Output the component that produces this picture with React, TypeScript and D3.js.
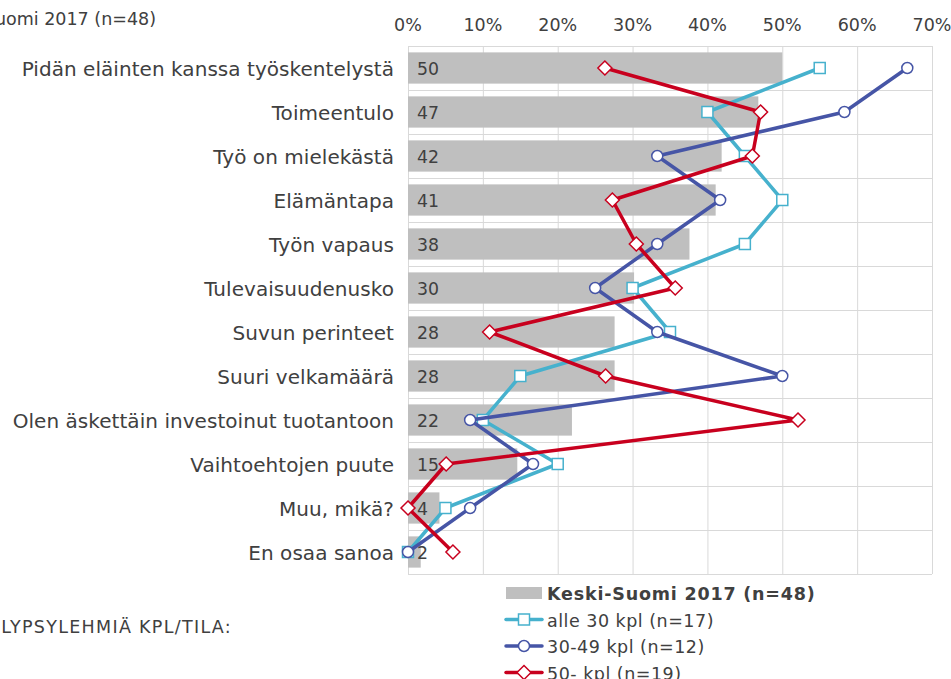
import { useEffect, useRef } from "react";
import * as d3 from "d3";

const categories = [
  "Pidän eläinten kanssa työskentelystä",
  "Toimeentulo",
  "Työ on mielekästä",
  "Elämäntapa",
  "Työn vapaus",
  "Tulevaisuudenusko",
  "Suvun perinteet",
  "Suuri velkamäärä",
  "Olen äskettäin investoinut tuotantoon",
  "Vaihtoehtojen puute",
  "Muu, mikä?",
  "En osaa sanoa",
];

// Keski-Suomi 2017 (n=48), bars
const totalValues = [50, 46.8, 41.9, 41.1, 37.6, 30.2, 27.6, 27.6, 21.9, 14.6, 4.2, 1.7];
// alle 30 kpl (n=17)
const smallFarms = [55, 40, 45, 50, 45, 30, 35, 15, 10, 20, 5, 0];
// 30-49 kpl (n=12)
const midFarms = [66.7, 58.3, 33.3, 41.7, 33.3, 25, 33.3, 50, 8.3, 16.7, 8.3, 0];
// 50- kpl (n=19)
const bigFarms = [26.3, 47.1, 46.0, 27.3, 30.5, 35.7, 10.9, 26.4, 52.1, 5.1, 0, 6.0];

const xTicks = [0, 10, 20, 30, 40, 50, 60, 70];

const seriesNames = [
  "Keski-Suomi 2017 (n=48)",
  "alle 30 kpl (n=17)",
  "30-49 kpl (n=12)",
  "50- kpl (n=19)",
];

const width = 951;
const height = 679;
const font = "'DejaVu Sans', Verdana, sans-serif";
const textColor = "#404040";

const App = () => {
  const svgRef = useRef<SVGSVGElement | null>(null);

  useEffect(() => {
    if (!svgRef.current) return;
    const svg = d3.select(svgRef.current);
    svg.selectAll("*").remove();

    const margin = { left: 408, top: 46, right: 19, bottom: 105 };
    const x = d3
      .scaleLinear()
      .domain([0, 70])
      .range([margin.left, width - margin.right]);
    const rows = d3
      .scaleBand()
      .domain(categories)
      .range([margin.top, height - margin.bottom]);
    const bars = rows.copy().paddingInner(0.29).paddingOuter(0.145);
    const yMid = (c: string) => (rows(c) as number) + rows.bandwidth() / 2;

    // grid
    const grid = svg.append("g").attr("stroke", "#d9d9d9").attr("stroke-width", 1);
    grid
      .selectAll(".v")
      .data(xTicks)
      .enter()
      .append("line")
      .attr("x1", (d) => x(d) + 0.5)
      .attr("x2", (d) => x(d) + 0.5)
      .attr("y1", margin.top)
      .attr("y2", height - margin.bottom);
    grid
      .selectAll(".h")
      .data(d3.range(categories.length + 1))
      .enter()
      .append("line")
      .attr("x1", x(0))
      .attr("x2", x(70))
      .attr("y1", (i) => margin.top + i * rows.step() + 0.5)
      .attr("y2", (i) => margin.top + i * rows.step() + 0.5);

    // x tick labels
    svg
      .append("g")
      .selectAll("text")
      .data(xTicks)
      .enter()
      .append("text")
      .attr("x", (d) => x(d))
      .attr("y", 31)
      .attr("text-anchor", "middle")
      .attr("font-family", font)
      .attr("font-size", "17.5px")
      .attr("fill", textColor)
      .text((d) => `${d}%`);

    // category labels
    svg
      .append("g")
      .selectAll("text")
      .data(categories)
      .enter()
      .append("text")
      .attr("x", x(0) - 14)
      .attr("y", (d) => yMid(d) + 7.5)
      .attr("text-anchor", "end")
      .attr("font-family", font)
      .attr("font-size", "20px")
      .attr("letter-spacing", "0.05px")
      .attr("fill", textColor)
      .text((d) => d);

    // bars
    svg
      .append("g")
      .selectAll("rect")
      .data(totalValues)
      .enter()
      .append("rect")
      .attr("x", x(0))
      .attr("y", (_d, i) => bars(categories[i]) as number)
      .attr("width", (d) => x(d) - x(0))
      .attr("height", bars.bandwidth())
      .attr("fill", "#bfbfbf");

    svg
      .append("g")
      .selectAll("text")
      .data(totalValues)
      .enter()
      .append("text")
      .attr("x", x(0) + 9)
      .attr("y", (_d, i) => yMid(categories[i]) + 6.5)
      .attr("font-family", font)
      .attr("font-size", "17.3px")
      .attr("fill", textColor)
      .text((d) => d3.format(".0f")(d));

    const line = d3
      .line<number>()
      .x((d) => x(d))
      .y((_d, i) => yMid(categories[i]));

    const drawMarker = (
      g: d3.Selection<SVGGElement, unknown, null, undefined>,
      kind: string,
      color: string,
      cx: number,
      cy: number,
    ) => {
      if (kind === "square") {
        g.append("rect")
          .attr("x", cx - 5.5)
          .attr("y", cy - 5.5)
          .attr("width", 11)
          .attr("height", 11)
          .attr("fill", "#fff")
          .attr("stroke", color)
          .attr("stroke-width", 1.5);
      } else if (kind === "circle") {
        g.append("circle")
          .attr("cx", cx)
          .attr("cy", cy)
          .attr("r", 5.5)
          .attr("fill", "#fff")
          .attr("stroke", color)
          .attr("stroke-width", 1.5);
      } else {
        g.append("path")
          .attr("d", `M${cx},${cy - 7}L${cx + 7},${cy}L${cx},${cy + 7}L${cx - 7},${cy}Z`)
          .attr("fill", "#fff")
          .attr("stroke", color)
          .attr("stroke-width", 1.5);
      }
    };

    const series = [
      { values: smallFarms, color: "#46b1cd", marker: "square" },
      { values: midFarms, color: "#4655a6", marker: "circle" },
      { values: bigFarms, color: "#c8001e", marker: "diamond" },
    ];

    series.forEach((s) => {
      const g = svg.append("g");
      g.append("path")
        .attr("d", line(s.values))
        .attr("fill", "none")
        .attr("stroke", s.color)
        .attr("stroke-width", 3.5)
        .attr("stroke-linejoin", "round");
      s.values.forEach((v, i) =>
        drawMarker(g, s.marker, s.color, x(v), yMid(categories[i])),
      );
    });

    // title, cut off at the left edge as in the source
    svg
      .append("text")
      .attr("x", 156)
      .attr("y", 25)
      .attr("text-anchor", "end")
      .attr("font-family", font)
      .attr("font-size", "17.5px")
      .attr("fill", textColor)
      .text("Keski-Suomi 2017 (n=48)");

    svg
      .append("text")
      .attr("x", 232)
      .attr("y", 633)
      .attr("text-anchor", "end")
      .attr("font-family", font)
      .attr("font-size", "17.5px")
      .attr("letter-spacing", "1.3px")
      .attr("fill", textColor)
      .text("LYPSYLEHMIÄ KPL/TILA:");

    // legend
    const legend = svg.append("g");
    const lx = 506;
    const rowY = (i: number) => 593 + i * 26.5;
    legend
      .append("rect")
      .attr("x", lx)
      .attr("y", rowY(0) - 6)
      .attr("width", 36)
      .attr("height", 12)
      .attr("fill", "#bfbfbf");
    series.forEach((s, i) => {
      const cy = rowY(i + 1);
      const g = legend.append("g");
      g.append("line")
        .attr("x1", lx)
        .attr("x2", lx + 36)
        .attr("y1", cy)
        .attr("y2", cy)
        .attr("stroke", s.color)
        .attr("stroke-width", 3.5)
        .attr("stroke-linecap", "round");
      drawMarker(g, s.marker, s.color, lx + 18, cy);
    });
    legend
      .selectAll("text")
      .data(seriesNames)
      .enter()
      .append("text")
      .attr("x", lx + 41)
      .attr("y", (_d, i) => rowY(i) + 7)
      .attr("font-family", font)
      .attr("font-size", "17.5px")
      .attr("letter-spacing", (_d, i) => (i === 0 ? "0.8px" : "0.5px"))
      .attr("font-weight", (_d, i) => (i === 0 ? "bold" : "normal"))
      .attr("fill", textColor)
      .text((d) => d);
  }, []);

  return (
    <svg
      ref={svgRef}
      width={width}
      height={height}
      style={{ position: "absolute", left: 0, top: 0, background: "#fff" }}
    />
  );
};

export default App;
